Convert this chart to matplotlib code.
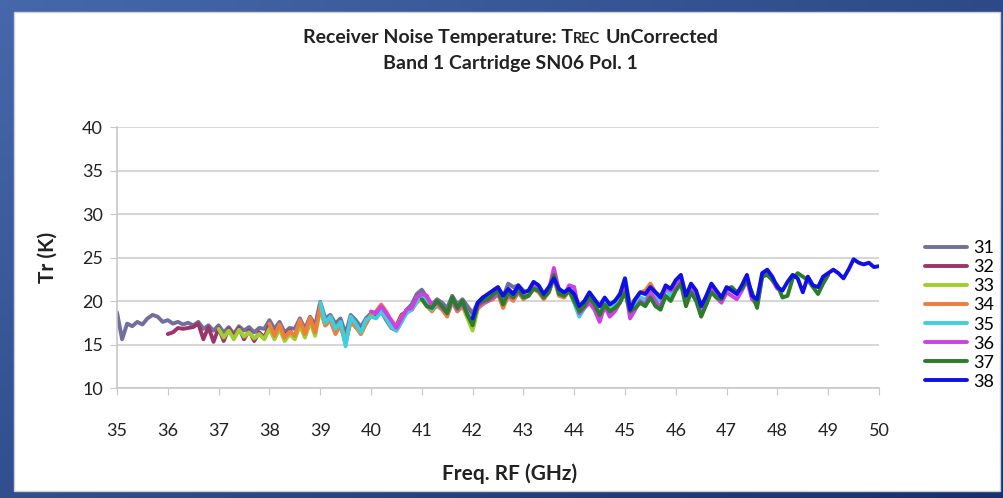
import numpy as np
import matplotlib
matplotlib.use("Agg")
import matplotlib.pyplot as plt
from matplotlib.patches import Rectangle
from matplotlib import font_manager

avail = {f.name for f in font_manager.fontManager.ttflist}
FONT = "Liberation Sans Narrow" if "Liberation Sans Narrow" in avail else "Lato"
plt.rcParams["font.family"] = [FONT, "DejaVu Sans"]

# ---------------- data ----------------
lo_ghz = [31, 32, 33, 34, 35, 36, 37, 38]
labels = ["31", "32", "33", "34", "35", "36", "37", "38"]
if_ghz = np.round(np.arange(4.0, 12.05, 0.1), 1)   # IF band 4-12 GHz, RF = LO + IF

t31 = [18.7, 15.6, 17.4, 17.1, 17.6, 17.3, 18.0, 18.4, 18.2, 17.6,
       17.8, 17.4, 17.6, 17.3, 17.5, 17.2, 17.6, 16.8, 17.2, 16.6,
       17.2, 16.4, 17.0, 16.2, 17.1, 16.6, 17.0, 16.4, 16.9, 16.8,
       17.8, 16.8, 17.6, 16.4, 16.9, 16.8, 18.0, 16.8, 18.2, 17.2,
       19.9, 18.0, 18.4, 17.4, 18.0, 16.2, 18.4, 17.8, 17.0, 18.0,
       18.6, 18.2, 18.8, 17.8, 16.9, 16.6, 17.6, 19.0, 19.6, 20.8,
       21.3, 20.4, 19.6, 20.2, 19.8, 19.2, 20.6, 19.6, 20.2, 19.4,
       18.6, 19.8, 20.4, 20.6, 21.0, 21.4, 20.4, 22.0, 21.6, 21.8,
       21.2]
t32 = [16.2, 16.4, 16.9, 16.8, 16.9, 17.0, 17.4, 15.6, 17.0, 15.3,
       16.9, 15.4, 16.8, 15.9, 16.9, 15.6, 16.6, 15.4, 16.4, 15.8,
       17.2, 16.2, 17.0, 16.0, 16.6, 15.8, 17.4, 16.0, 17.6, 16.6,
       19.2, 17.2, 17.8, 16.4, 17.2, 15.2, 17.8, 17.0, 16.8, 17.4,
       18.4, 18.4, 19.0, 18.2, 17.4, 17.2, 18.4, 18.8, 19.0, 20.0,
       20.6, 19.6, 19.0, 19.6, 19.2, 18.8, 20.0, 19.0, 19.6, 18.8,
       18.0, 19.4, 19.8, 20.0, 20.4, 20.8, 19.8, 20.6, 20.2, 21.0,
       20.8, 21.0, 21.4, 21.2, 20.8, 21.2, 22.6, 21.4, 20.6, 21.2,
       20.4]
t33 = [16.8, 15.8, 16.6, 15.6, 16.7, 15.9, 16.4, 15.7, 16.2, 15.6,
       16.8, 15.6, 16.8, 15.4, 16.2, 15.6, 17.2, 15.8, 17.6, 16.0,
       19.0, 17.2, 17.8, 16.6, 17.2, 15.4, 17.6, 17.2, 16.2, 17.4,
       18.4, 18.8, 19.2, 18.4, 17.6, 17.0, 17.8, 18.8, 19.0, 19.8,
       20.4, 19.6, 19.0, 19.4, 19.0, 18.4, 19.8, 18.8, 19.4, 18.0,
       16.6, 19.0, 19.8, 20.0, 21.2, 21.6, 20.2, 21.4, 20.8, 21.8,
       20.8, 21.0, 21.6, 21.2, 20.4, 21.0, 22.8, 20.8, 20.4, 21.2,
       19.8, 18.6, 19.6, 20.2, 19.6, 18.6, 19.8, 19.2, 19.4, 20.0,
       21.6]
t34 = [17.4, 16.0, 17.3, 15.8, 16.5, 16.0, 17.8, 16.2, 18.1, 16.4,
       19.4, 17.2, 17.8, 16.2, 17.2, 15.4, 17.6, 17.0, 16.2, 17.4,
       18.4, 18.8, 19.6, 18.8, 17.6, 17.0, 18.2, 18.8, 19.0, 20.0,
       20.6, 19.4, 18.8, 19.6, 19.0, 18.2, 20.0, 18.8, 19.4, 18.6,
       17.8, 19.2, 19.6, 20.0, 20.2, 20.8, 19.2, 20.6, 20.0, 21.0,
       20.2, 20.6, 21.4, 21.0, 20.2, 21.0, 22.6, 20.6, 20.4, 21.2,
       20.0, 18.8, 19.2, 20.2, 19.6, 18.6, 19.6, 18.8, 19.4, 20.2,
       21.8, 19.6, 20.2, 21.0, 21.2, 22.0, 21.0, 20.6, 21.6, 21.0,
       21.8]
t35 = [19.8, 17.5, 18.2, 16.8, 17.6, 14.8, 18.2, 17.4, 16.4, 17.8,
       18.2, 18.0, 18.8, 18.0, 17.0, 16.6, 17.6, 18.6, 19.0, 20.0,
       20.6, 19.6, 19.0, 19.8, 19.2, 18.6, 20.2, 19.0, 19.8, 18.6,
       18.0, 19.4, 19.8, 20.2, 20.6, 21.0, 19.8, 21.0, 20.6, 21.2,
       20.4, 20.6, 21.6, 21.4, 20.6, 21.2, 22.8, 20.8, 20.6, 21.4,
       19.8, 18.2, 19.2, 20.2, 19.4, 18.4, 19.8, 18.8, 19.6, 20.6,
       22.6, 19.4, 19.8, 20.4, 20.2, 21.0, 20.4, 20.0, 21.4, 20.6,
       21.6, 22.4, 20.4, 21.6, 20.8, 19.2, 20.2, 21.4, 20.6, 20.4,
       21.2]
t36 = [18.8, 18.6, 19.4, 18.6, 17.8, 16.9, 18.0, 19.0, 19.2, 20.4,
       20.8, 20.6, 19.4, 19.8, 19.2, 18.6, 20.2, 19.0, 19.8, 18.4,
       17.6, 19.4, 19.8, 20.0, 20.4, 20.8, 19.8, 20.6, 20.4, 21.0,
       20.6, 20.6, 21.6, 21.4, 20.4, 21.2, 23.8, 21.2, 20.6, 21.8,
       21.6, 18.6, 19.2, 19.8, 19.0, 17.6, 19.4, 18.2, 18.8, 19.8,
       21.6, 18.0, 19.0, 20.0, 19.6, 21.0, 20.0, 19.2, 21.6, 21.2,
       21.6, 22.4, 19.8, 21.4, 20.4, 18.4, 19.6, 21.4, 20.4, 19.8,
       21.0, 20.6, 20.2, 21.2, 22.4, 20.2, 19.6, 22.8, 23.2, 22.4,
       21.4]
t37 = [20.2, 19.4, 19.2, 20.0, 19.4, 18.6, 20.4, 19.2, 20.0, 18.4,
       17.2, 19.6, 20.0, 20.2, 20.7, 21.2, 19.6, 21.0, 20.4, 21.4,
       20.4, 20.6, 21.4, 21.2, 20.4, 21.0, 23.0, 20.8, 20.6, 21.2,
       20.0, 18.8, 19.4, 20.4, 19.6, 18.4, 19.6, 18.8, 19.2, 19.8,
       21.0, 18.8, 19.2, 19.8, 19.4, 20.4, 19.4, 19.0, 20.6, 20.0,
       21.2, 22.0, 19.4, 21.0, 20.0, 18.2, 19.6, 21.0, 20.4, 20.2,
       21.4, 21.6, 21.0, 21.4, 22.4, 21.0, 19.2, 22.8, 23.0, 22.4,
       21.8, 20.4, 20.6, 22.6, 23.2, 22.8, 22.4, 21.6, 20.8, 22.0,
       23.0]
t38 = [18.0, 19.8, 20.4, 20.8, 21.2, 21.6, 20.6, 21.4, 20.8, 21.8,
       21.0, 21.2, 22.2, 21.8, 20.8, 21.6, 22.6, 21.4, 21.0, 21.4,
       20.8, 19.4, 20.0, 21.0, 20.2, 19.4, 20.4, 19.6, 20.0, 20.8,
       22.6, 19.0, 20.2, 21.0, 20.8, 21.6, 21.0, 20.4, 21.8, 21.4,
       22.4, 23.0, 20.6, 22.0, 21.2, 19.4, 20.6, 22.0, 21.2, 20.4,
       21.6, 21.2, 20.8, 21.8, 23.0, 20.6, 20.2, 23.2, 23.6, 22.8,
       21.6, 21.2, 22.2, 23.0, 22.6, 21.0, 22.8, 21.8, 21.6, 22.8,
       23.2, 23.6, 23.2, 22.6, 23.6, 24.8, 24.4, 24.2, 24.4, 23.9,
       24.0]
series = [t31, t32, t33, t34, t35, t36, t37, t38]
colors = ["#716f9e", "#9c3569", "#9fcf2c", "#ef7d3c", "#3fcfdc",
          "#cf3fe6", "#2a7d2a", "#1010e6"]

x_ticks = list(range(35, 51))
y_ticks = [10, 15, 20, 25, 30, 35, 40]

# ---------------- figure ----------------
W, H = 1004, 498
fig = plt.figure(figsize=(W / 100, H / 100), dpi=100)

# blue gradient background
bg = fig.add_axes([0, 0, 1, 1], zorder=-10)
yy, xx = np.mgrid[0:1:60j, 0:1:120j]
t = 0.55 * xx + 0.45 * yy
c0 = np.array([70, 104, 170]) / 255.0
c1 = np.array([24, 48, 110]) / 255.0
img = c0[None, None, :] * (1 - t[..., None]) + c1[None, None, :] * t[..., None]
bg.imshow(img, extent=[0, 1, 0, 1], aspect="auto", origin="upper")
bg.set_axis_off()
fig.patches.append(Rectangle((14 / W, 1 - 491 / H), (1000 - 14) / W, (491 - 12) / H,
                             transform=fig.transFigure, facecolor="white",
                             edgecolor="#cfcfcf", linewidth=1.0, zorder=-5))

ax = fig.add_axes([117 / W, 1 - 388 / H, (879 - 117) / W, (388 - 127) / H])
ax.set_facecolor("none")
for lo, vals, col, lab in zip(lo_ghz, series, colors, labels):
    rf = lo + if_ghz
    ax.plot(rf, vals, color=col, lw=2.8, label=lab, solid_joinstyle="round",
            solid_capstyle="round")

ax.set_xlim(35, 50)
ax.set_ylim(10, 40)
ax.set_xticks(x_ticks)
ax.set_yticks(y_ticks)
ax.yaxis.grid(True, color="#d0d0d0", lw=1.2)
ax.set_axisbelow(True)
for s in ["top", "right"]:
    ax.spines[s].set_visible(False)
for s in ["left", "bottom"]:
    ax.spines[s].set_color("#c8c8c8")
    ax.spines[s].set_linewidth(1.2)
ax.tick_params(axis="x", length=5, color="#c8c8c8", pad=20, labelsize=13, labelcolor="#222222")
ax.tick_params(axis="y", length=5, color="#c8c8c8", pad=5, labelsize=13, labelcolor="#222222")

ax.set_xlabel("Freq. RF (GHz)", fontsize=15, weight="bold", color="#222222")
ax.xaxis.set_label_coords(0.515, -0.29)
ax.set_ylabel("Tr (K)", fontsize=15, weight="bold", color="#222222")
ax.yaxis.set_label_coords(-0.078, 0.5)

leg = fig.legend(loc="upper left", bbox_to_anchor=(918 / W, 1 - 233 / H),
                 frameon=False, fontsize=13, handlelength=2.3, handletextpad=0.35,
                 labelspacing=0.17, borderaxespad=0)
for h in leg.get_lines():
    h.set_linewidth(2.8)

# title with small-caps "REC"
fig.canvas.draw()
r = fig.canvas.get_renderer()
y1 = 1 - 43 / H
kw = dict(weight="bold", color="#222222", va="baseline", ha="left")
p1 = fig.text(0, y1, "Receiver Noise Temperature: T", fontsize=14, **kw)
p2 = fig.text(0, y1, "REC", fontsize=10.5, **kw)
p3 = fig.text(0, y1, "UnCorrected", fontsize=14, **kw)
w1 = p1.get_window_extent(r).width
w2 = p2.get_window_extent(r).width
w3 = p3.get_window_extent(r).width
gap = 5
x0 = 511 - (w1 + w2 + gap + w3) / 2
p1.set_x(x0 / W)
p2.set_x((x0 + w1) / W)
p3.set_x((x0 + w1 + w2 + gap) / W)
fig.text(510 / W, 1 - 69 / H, "Band 1 Cartridge SN06 Pol. 1", fontsize=14,
         weight="bold", color="#222222", ha="center", va="baseline")

fig.savefig("out.png", dpi=100)
